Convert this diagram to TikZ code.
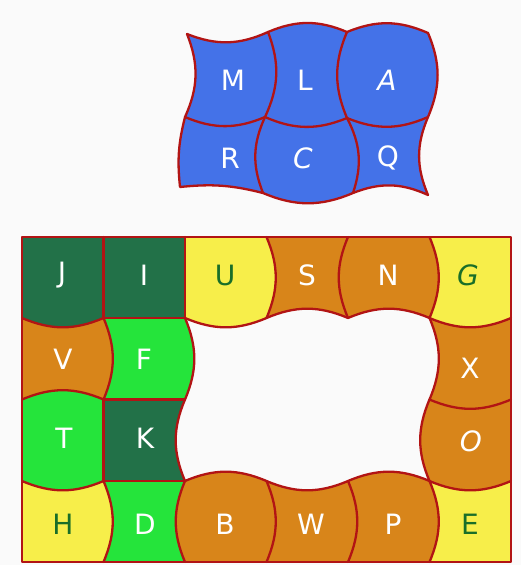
\documentclass[tikz,border=0pt]{standalone}
\usepackage{fontspec}
\setmainfont{DejaVu Sans}
\definecolor{bg}{RGB}{250,250,250}
\definecolor{qred}{RGB}{178,20,20}
\definecolor{qblue}{RGB}{68,114,232}
\definecolor{dkg}{RGB}{34,113,72}
\definecolor{brg}{RGB}{37,228,59}
\definecolor{ylw}{RGB}{247,238,74}
\definecolor{org}{RGB}{216,133,26}
\definecolor{labgreen}{RGB}{25,110,40}
\begin{document}
\begin{tikzpicture}[x=1pt,y=-1pt,
  bl/.style={bend left=23}, br/.style={bend right=23},
  sbl/.style={bend left=10}, sbr/.style={bend right=10},
  edge/.style={draw=qred, line width=2.3pt, line cap=round, line join=round},
  lab/.style={font=\fontsize{28}{28}\selectfont, text=white, inner sep=0pt},
  labd/.style={lab, text=labgreen}]
\useasboundingbox (0,0) rectangle (521,565);
\fill[bg] (0,0) rectangle (521,565);
% grid points of the lower quilt
\foreach \i/\x in {0/22,1/103.5,2/185,3/266.5,4/348,5/429.5,6/511}{
  \foreach \j/\y in {0/237,1/318,2/399.5,3/481,4/562}{
    \coordinate (a\i\j) at (\x,\y);}}
% cells
\fill[dkg] (a00) -- (a10) -- (a11) to[bl] (a01) -- cycle; % J
\fill[dkg] (a10) -- (a20) -- (a21) -- (a11) -- cycle; % I
\fill[ylw] (a20) -- (a30) to[bl] (a31) to[bl] (a21) -- cycle; % U
\fill[org] (a30) -- (a40) to[br] (a41) to[br] (a31) to[br] (a30) -- cycle; % S
\fill[org] (a40) -- (a50) to[bl] (a51) to[br] (a41) to[bl] (a40) -- cycle; % N
\fill[ylw] (a50) -- (a60) -- (a61) to[bl] (a51) to[br] (a50) -- cycle; % G
\fill[org] (a01) to[br] (a11) to[bl] (a12) to[br] (a02) -- cycle; % V
\fill[brg] (a11) -- (a21) to[bl] (a22) -- (a12) to[br] (a11) -- cycle; % F
\fill[org] (a51) to[br] (a61) -- (a62) to[bl] (a52) to[br] (a51) -- cycle; % X
\fill[brg] (a02) to[bl] (a12) -- (a13) to[bl] (a03) -- cycle; % T
\fill[dkg] (a12) -- (a22) to[br] (a23) -- (a13) -- cycle; % K
\fill[org] (a52) to[br] (a62) -- (a63) to[bl] (a53) to[bl] (a52) -- cycle; % O
\fill[ylw] (a03) to[br] (a13) to[bl] (a14) -- (a04) -- cycle; % H
\fill[brg] (a13) -- (a23) to[br] (a24) -- (a14) to[br] (a13) -- cycle; % D
\fill[org] (a23) to[bl] (a33) to[bl] (a34) -- (a24) to[bl] (a23) -- cycle; % B
\fill[org] (a33) to[br] (a43) to[bl] (a44) -- (a34) to[br] (a33) -- cycle; % W
\fill[org] (a43) to[bl] (a53) to[bl] (a54) -- (a44) to[br] (a43) -- cycle; % P
\fill[ylw] (a53) to[br] (a63) -- (a64) -- (a54) to[br] (a53) -- cycle; % E
% horizontal edges
\draw[edge] (a01) to[br] (a11);
\draw[edge] (a11) -- (a21);
\draw[edge] (a21) to[br] (a31);
\draw[edge] (a31) to[bl] (a41);
\draw[edge] (a41) to[bl] (a51);
\draw[edge] (a51) to[br] (a61);
\draw[edge] (a02) to[bl] (a12);
\draw[edge] (a12) -- (a22);
\draw[edge] (a52) to[br] (a62);
\draw[edge] (a03) to[br] (a13);
\draw[edge] (a13) -- (a23);
\draw[edge] (a23) to[bl] (a33);
\draw[edge] (a33) to[br] (a43);
\draw[edge] (a43) to[bl] (a53);
\draw[edge] (a53) to[br] (a63);
% vertical edges
\draw[edge] (a10) -- (a11);
\draw[edge] (a11) to[bl] (a12);
\draw[edge] (a12) -- (a13);
\draw[edge] (a13) to[bl] (a14);
\draw[edge] (a20) -- (a21);
\draw[edge] (a21) to[bl] (a22);
\draw[edge] (a22) to[br] (a23);
\draw[edge] (a23) to[br] (a24);
\draw[edge] (a30) to[bl] (a31);
\draw[edge] (a33) to[bl] (a34);
\draw[edge] (a40) to[br] (a41);
\draw[edge] (a43) to[bl] (a44);
\draw[edge] (a50) to[bl] (a51);
\draw[edge] (a51) to[bl] (a52);
\draw[edge] (a52) to[br] (a53);
\draw[edge] (a53) to[bl] (a54);
\draw[edge, line width=2.6pt] (a00) rectangle (a64);
% labels lower quilt
\node[lab]  (lJ) at (62,275) {J};
\node[lab]  (lI) at (144,275) {I};
\node[labd] (lU) at (225,275) {U};
\node[lab]  (lS) at (307,275) {S};
\node[lab]  (lN) at (388,275) {N};
\node[labd] (lG) at (468,275) {\itshape G};
\node[lab]  (lV) at (63,359) {V};
\node[lab]  (lF) at (144,359) {F};
\node[lab]  (lX) at (470,368) {X};
\node[lab]  (lT) at (64,438) {T};
\node[lab]  (lK) at (145,438) {K};
\node[lab]  (lO) at (471,441) {\itshape O};
\node[labd] (lH) at (63,524) {H};
\node[lab]  (lD) at (145,524) {D};
\node[lab]  (lB) at (225,524) {B};
\node[lab]  (lW) at (311,524) {W};
\node[lab]  (lP) at (393,524) {P};
\node[labd] (lE) at (470,524) {E};
% upper quilt
\coordinate (b00) at (187,34);  \coordinate (b10) at (268,32);
\coordinate (b20) at (347,32);  \coordinate (b30) at (428,33);
\coordinate (b01) at (185,117); \coordinate (b11) at (265,117);
\coordinate (b21) at (347,118); \coordinate (b31) at (428,117);
\coordinate (b02) at (180,187); \coordinate (b12) at (263,193);
\coordinate (b22) at (353,193); \coordinate (b32) at (428,195);
\path[fill=qblue, edge] (b00) to[br] (b10) to[bl] (b20) to[bl] (b30)
  to[bl] (b31) to[br] (b32) to[br] (b22) to[bl] (b12) to[sbr] (b02)
  to[sbl] (b01) to[br] (b00) -- cycle;
\draw[edge] (b10) to[bl] (b11);
\draw[edge] (b20) to[br] (b21);
\draw[edge] (b01) to[br] (b11);
\draw[edge] (b11) to[br] (b21);
\draw[edge] (b21) to[br] (b31);
\draw[edge] (b11) to[br] (b12);
\draw[edge] (b21) to[bl] (b22);
\node[lab] (lM) at (233,80) {M};
\node[lab] (lL) at (305,80) {L};
\node[lab] (lA) at (387,80) {\itshape A};
\node[lab] (lR) at (230,158) {R};
\node[lab] (lC) at (303,158) {\itshape C};
\node[lab] (lQ) at (388,158) {Q};
\end{tikzpicture}
\end{document}
